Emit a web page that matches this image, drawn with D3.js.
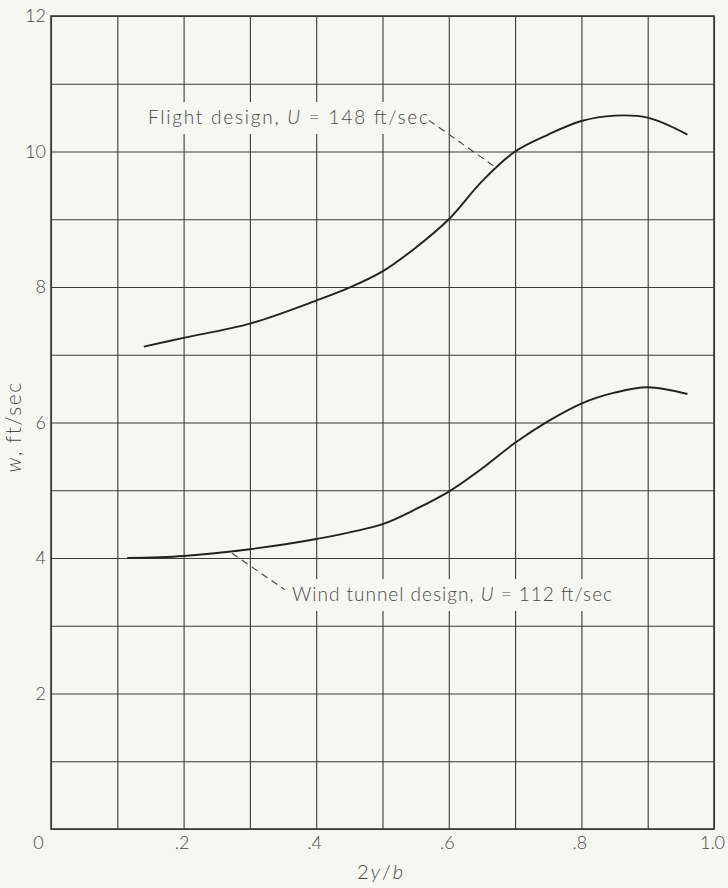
<!DOCTYPE html>
<html>
<head>
<meta charset="utf-8">
<script src="https://cdn.jsdelivr.net/npm/d3@7"></script>
<style>
  html, body { margin: 0; padding: 0; background: #f6f6f3; }
  svg { display: block; }
  .grid line { stroke: #3a3a36; stroke-width: 1.1; }
  .grid path { display: none; }
  .lbl text { font-family: Lato, "Open Sans", sans-serif; font-weight: 300; font-size: 18px; fill: #4a4a4a; }
  .lbl path, .lbl line { display: none; }
</style>
</head>
<body>
<div id="chart"></div>
<script>
// spanwise station 2y/b and downwash w (ft/sec)
const flightX = [0.14, 0.2, 0.3, 0.4, 0.45, 0.5, 0.55, 0.6, 0.65, 0.7, 0.75, 0.8, 0.85, 0.9, 0.96];
const flightW = [7.12, 7.25, 7.46, 7.8, 7.99, 8.23, 8.58, 9.0, 9.56, 10.0, 10.25, 10.45, 10.53, 10.5, 10.25];

const tunnelX = [0.115, 0.2, 0.3, 0.4, 0.5, 0.55, 0.6, 0.65, 0.7, 0.75, 0.8, 0.85, 0.9, 0.96];
const tunnelW = [4.0, 4.03, 4.13, 4.28, 4.5, 4.72, 4.98, 5.32, 5.7, 6.02, 6.28, 6.44, 6.52, 6.42];

const xTicks = [0, 0.2, 0.4, 0.6, 0.8, 1.0];
const xTickLabels = ['0', '.2', '.4', '.6', '.8', '1.0'];
const yTicks = [2, 4, 6, 8, 10, 12];
const yTickLabels = ['2', '4', '6', '8', '10', '12'];

const width = 728, height = 888;
const plotLeft = 51, plotRight = 714, plotTop = 16, plotBottom = 829;
const bg = '#f6f6f3';
const ink = '#4a4a4a';
const font = 'Lato, "Open Sans", sans-serif';

const svg = d3.select('#chart').append('svg')
  .attr('width', width)
  .attr('height', height);

const x = d3.scaleLinear().domain([0, 1]).range([plotLeft, plotRight]);
const y = d3.scaleLinear().domain([0, 12]).range([plotBottom, plotTop]);

// grid every 0.1 and every 1 ft/sec
svg.append('g')
  .attr('class', 'grid')
  .attr('transform', `translate(0, ${plotBottom})`)
  .call(d3.axisBottom(x).tickValues(d3.range(0, 11).map(d => d / 10)).tickSize(-(plotBottom - plotTop)).tickFormat(''));

svg.append('g')
  .attr('class', 'grid')
  .attr('transform', `translate(${plotLeft}, 0)`)
  .call(d3.axisLeft(y).tickValues(d3.range(0, 13)).tickSize(-(plotRight - plotLeft)).tickFormat(''));

svg.append('rect')
  .attr('x', plotLeft).attr('y', plotTop)
  .attr('width', plotRight - plotLeft).attr('height', plotBottom - plotTop)
  .attr('fill', 'none')
  .attr('stroke', '#3a3a36')
  .attr('stroke-width', 1.6);

// tick labels
const xAxis = svg.append('g')
  .attr('class', 'lbl')
  .attr('transform', `translate(0, ${plotBottom})`)
  .call(d3.axisBottom(x).tickValues(xTicks).tickSize(0).tickPadding(7)
    .tickFormat((d, i) => xTickLabels[i]));
xAxis.selectAll('text')
  .attr('dx', (d, i) => i === 0 ? -13 : -2);

svg.append('g')
  .attr('class', 'lbl')
  .attr('transform', `translate(${plotLeft - 5}, 0)`)
  .call(d3.axisLeft(y).tickValues(yTicks).tickSize(0).tickPadding(0)
    .tickFormat((d, i) => yTickLabels[i]));

// axis titles
const xt = svg.append('text')
  .attr('x', 357)
  .attr('y', 879)
  .attr('textLength', 46)
  .attr('lengthAdjust', 'spacing')
  .style('font-family', font).style('font-weight', 300).style('font-size', '20px').style('fill', ink);
xt.append('tspan').text('2');
xt.append('tspan').style('font-style', 'italic').text('y');
xt.append('tspan').text('/');
xt.append('tspan').style('font-style', 'italic').text('b');

const yt = svg.append('text')
  .attr('transform', 'translate(21, 427) rotate(-90)')
  .attr('text-anchor', 'middle')
  .style('font-family', font).style('font-weight', 300).style('font-size', '21px')
  .style('letter-spacing', '1.5px').style('fill', ink);
yt.append('tspan').style('font-style', 'italic').text('w');
yt.append('tspan').text(', ft/sec');

// curves
const line = d3.line()
  .x(d => x(d[0]))
  .y(d => y(d[1]))
  .curve(d3.curveCatmullRom.alpha(0.5));

svg.append('path')
  .datum(d3.zip(flightX, flightW))
  .attr('d', line)
  .attr('fill', 'none')
  .attr('stroke', '#222')
  .attr('stroke-width', 1.9);

svg.append('path')
  .datum(d3.zip(tunnelX, tunnelW))
  .attr('d', line)
  .attr('fill', 'none')
  .attr('stroke', '#222')
  .attr('stroke-width', 1.9);

// curve labels, grid is blanked behind them
function label(tx, ty, len, parts) {
  const g = svg.append('g');
  const back = g.append('rect').attr('fill', bg);
  const t = g.append('text')
    .attr('x', tx).attr('y', ty)
    .attr('textLength', len)
    .attr('lengthAdjust', 'spacing')
    .style('font-family', font).style('font-weight', 300).style('font-size', '19px')
    .style('fill', ink);
  parts.forEach(p => {
    t.append('tspan').style('font-style', p[1] ? 'italic' : 'normal').text(p[0]);
  });
  back.attr('x', tx - 4).attr('y', ty - 22)
    .attr('width', len + 8).attr('height', 32);
}

label(148, 124, 280, [['Flight design, ', false], ['U', true], [' = 148 ft/sec', false]]);
label(292, 601, 320, [['Wind tunnel design, ', false], ['U', true], [' = 112 ft/sec', false]]);

svg.append('line')
  .attr('x1', x(0.57)).attr('y1', y(10.46))
  .attr('x2', x(0.673)).attr('y2', y(9.75))
  .attr('stroke', '#444').attr('stroke-width', 1.1).attr('stroke-dasharray', '7,5');

svg.append('line')
  .attr('x1', x(0.273)).attr('y1', y(4.07))
  .attr('x2', x(0.353)).attr('y2', y(3.53))
  .attr('stroke', '#444').attr('stroke-width', 1.1).attr('stroke-dasharray', '7,5');
</script>
</body>
</html>
